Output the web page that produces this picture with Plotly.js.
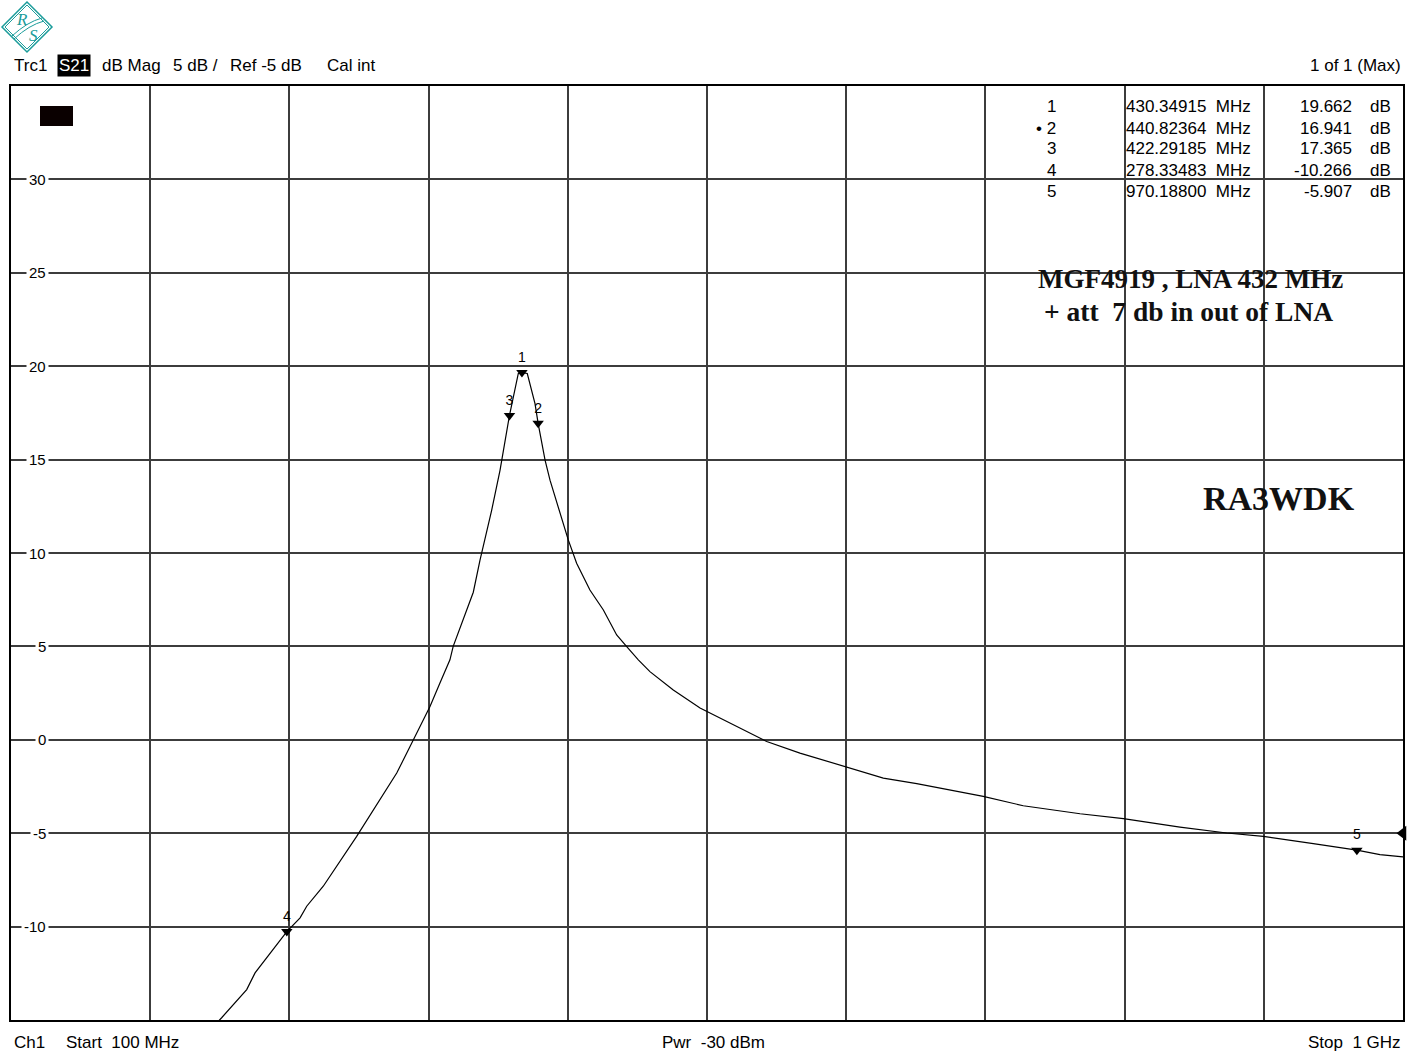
<!DOCTYPE html>
<html>
<head>
<meta charset="utf-8">
<script src="https://cdn.plot.ly/plotly-3.0.1.min.js"></script>
<style>
html,body{margin:0;padding:0;background:#fff;}
#chart{width:1417px;height:1058px;}
</style>
</head>
<body>
<div id="chart"></div>
<script>
// ---- data ----
const freqMHz = [228, 236.2, 252.4, 257.8, 278.33, 286.9, 291.2, 301.9, 323.5, 334.2, 349.4, 358, 365.5, 370.9, 377.4, 383.8, 385.9, 392.4, 398.9, 403.2, 410.8, 416.2, 419.4, 422.29, 428.0, 430.35, 433.8, 438.8, 440.82, 445.3, 448.5, 455, 460.3, 465.7, 474.3, 483, 491.6, 498.1, 505.6, 513.1, 528.2, 545.5, 569.2, 588.6, 610.1, 631.7, 653.2, 664, 685.6, 707.1, 728.6, 754.5, 791.2, 819.2, 855.8, 886, 909.7, 942, 970.19, 985.1, 1000];
const gainDb  = [-15.6, -14.88, -13.37, -12.48, -10.27, -9.53, -8.91, -7.84, -5.17, -3.74, -1.78, -0.36, 0.89, 1.78, 3.05, 4.28, 5.0, 6.42, 7.9, 9.6, 12.3, 14.44, 16.04, 17.37, 19.61, 19.66, 19.61, 18.0, 16.94, 14.97, 13.9, 12.12, 10.7, 9.45, 8.02, 6.95, 5.61, 4.99, 4.28, 3.65, 2.67, 1.7, 0.71, -0.09, -0.71, -1.25, -1.78, -2.05, -2.35, -2.67, -3.03, -3.53, -3.96, -4.22, -4.67, -4.99, -5.17, -5.56, -5.91, -6.15, -6.27];

const markerIds   = ['1', '2', '3', '4', '5'];
const markerLabel = ['1', '• 2', '3', '4', '5'];
const markerFreq  = [430.34915, 440.82364, 422.29185, 278.33483, 970.18800];
const markerDb    = [19.662, 16.941, 17.365, -10.266, -5.907];

const yTicks = [30, 25, 20, 15, 10, 5, 0, -5, -10];
const refLevelDb = -5;

const headerItems = ['Trc1', 'S21', 'dB Mag', '5 dB /', 'Ref -5 dB', 'Cal int'];
const footerItems = ['Ch1', 'Start  100 MHz', 'Pwr  -30 dBm', 'Stop  1 GHz'];
const noteLines = ['MGF4919 , LNA 432 MHz', '+ att  7 db in out of LNA'];
const author = 'RA3WDK';

// ---- geometry helpers (pixel -> paper) ----
const W = 1417, H = 1058;
const L = 11, R = 1403, T = 86, B = 1020;
const px = x => (x - L) / (R - L);
const py = y => 1 - (y - T) / (B - T);

const sans = 'Liberation Sans, Arial, sans-serif';
const serif = 'Liberation Serif, Times New Roman, serif';

const traces = [
  {x: freqMHz, y: gainDb, type: 'scatter', mode: 'lines',
   line: {color: '#000', width: 1.2}, hoverinfo: 'skip'},
  {x: markerFreq, y: markerDb, type: 'scatter', mode: 'markers+text',
   text: markerIds, textposition: 'top center',
   textfont: {family: sans, size: 14, color: '#000'},
   marker: {symbol: 'triangle-down', size: 10, color: '#000'}, hoverinfo: 'skip'},
  {x: [1000], y: [refLevelDb], type: 'scatter', mode: 'markers', cliponaxis: false,
   marker: {symbol: 'triangle-left', size: 13, color: '#000'}, hoverinfo: 'skip'}
];

const ann = [];
// y tick labels inside the plot, masking the grid
yTicks.forEach(v => ann.push({xref: 'paper', yref: 'y', x: px(49), y: v, xanchor: 'right', yanchor: 'middle',
  text: String(v), showarrow: false, bgcolor: '#fff', borderpad: 2,
  font: {family: sans, size: 15, color: '#000'}}));

// header
const headerX = [12, 57, 100, 171, 228, 325];
headerItems.forEach((t, i) => ann.push({xref: 'paper', yref: 'paper', x: px(headerX[i]), y: py(65),
  xanchor: 'left', yanchor: 'middle', text: t, showarrow: false,
  bgcolor: i === 1 ? '#000' : 'rgba(0,0,0,0)', borderpad: 1,
  font: {family: sans, size: 17, color: i === 1 ? '#fff' : '#000'}}));
ann.push({xref: 'paper', yref: 'paper', x: px(1403), y: py(65), xanchor: 'right', yanchor: 'middle',
  text: '1 of 1 (Max)', showarrow: false, font: {family: sans, size: 17, color: '#000'}});

// footer
const footerX = [12, 64, 713, 1403];
const footerAnchor = ['left', 'left', 'center', 'right'];
footerItems.forEach((t, i) => ann.push({xref: 'paper', yref: 'paper', x: px(footerX[i]), y: py(1042),
  xanchor: footerAnchor[i], yanchor: 'middle', text: t, showarrow: false,
  font: {family: sans, size: 17, color: '#000'}}));

// marker table
const rowY = [107, 128, 149, 170, 192];
markerIds.forEach((id, i) => {
  ann.push({xref: 'paper', yref: 'paper', x: px(1058), y: py(rowY[i]), xanchor: 'right', yanchor: 'middle',
    text: markerLabel[i], showarrow: false, font: {family: sans, size: 17, color: '#000'}});
  ann.push({xref: 'paper', yref: 'paper', x: px(1124), y: py(rowY[i]), xanchor: 'left', yanchor: 'middle',
    text: markerFreq[i].toFixed(5) + '  MHz', showarrow: false, font: {family: sans, size: 17, color: '#000'}});
  ann.push({xref: 'paper', yref: 'paper', x: px(1354), y: py(rowY[i]), xanchor: 'right', yanchor: 'middle',
    text: markerDb[i].toFixed(3), showarrow: false, font: {family: sans, size: 17, color: '#000'}});
  ann.push({xref: 'paper', yref: 'paper', x: px(1368), y: py(rowY[i]), xanchor: 'left', yanchor: 'middle',
    text: 'dB', showarrow: false, font: {family: sans, size: 17, color: '#000'}});
});

// notes
ann.push({xref: 'paper', yref: 'paper', x: px(1036), y: py(279), xanchor: 'left', yanchor: 'middle',
  text: '<b>' + noteLines[0] + '</b>', showarrow: false, font: {family: serif, size: 27, color: '#111'}});
ann.push({xref: 'paper', yref: 'paper', x: px(1042), y: py(311), xanchor: 'left', yanchor: 'middle',
  text: '<b>' + noteLines[1] + '</b>', showarrow: false, font: {family: serif, size: 27.5, color: '#111'}});
ann.push({xref: 'paper', yref: 'paper', x: px(1201), y: py(498), xanchor: 'left', yanchor: 'middle',
  text: '<b>' + author + '</b>', showarrow: false, font: {family: serif, size: 34, color: '#111'}});

// logo letters
const teal = '#1a9c9a';
ann.push({xref: 'paper', yref: 'paper', x: px(22), y: py(20), xanchor: 'center', yanchor: 'middle',
  text: '<i>R</i>', showarrow: false, font: {family: serif, size: 17, color: teal}});
ann.push({xref: 'paper', yref: 'paper', x: px(33), y: py(35), xanchor: 'center', yanchor: 'middle',
  text: '<i>S</i>', showarrow: false, font: {family: serif, size: 17, color: teal}});

const diamond = (cx, cy, r) => {
  return 'M ' + px(cx - r) + ' ' + py(cy) + ' L ' + px(cx) + ' ' + py(cy - r) + ' L ' + px(cx + r) + ' ' + py(cy) +
         ' L ' + px(cx) + ' ' + py(cy + r) + ' Z';
};

const shapes = [
  // small black block in upper-left of plot
  {type: 'rect', xref: 'paper', yref: 'paper', x0: px(40), x1: px(73), y0: py(126), y1: py(106),
   fillcolor: '#0a0000', line: {width: 0}},
  // logo
  {type: 'path', xref: 'paper', yref: 'paper', path: diamond(27, 27, 25), line: {color: teal, width: 1.5}},
  {type: 'path', xref: 'paper', yref: 'paper', path: diamond(27, 27, 22), line: {color: teal, width: 1}},
  {type: 'path', xref: 'paper', yref: 'paper',
   path: 'M ' + px(12) + ' ' + py(36) + ' Q ' + px(27) + ' ' + py(22) + ' ' + px(42) + ' ' + py(18),
   line: {color: teal, width: 1}},
  {type: 'path', xref: 'paper', yref: 'paper',
   path: 'M ' + px(14) + ' ' + py(39) + ' Q ' + px(29) + ' ' + py(25) + ' ' + px(44) + ' ' + py(21),
   line: {color: teal, width: 1}}
];

const layout = {
  width: W, height: H,
  margin: {l: L, r: W - R, t: T, b: H - B, pad: 0},
  paper_bgcolor: '#fff', plot_bgcolor: '#fff',
  showlegend: false,
  xaxis: {range: [100, 1000], tick0: 100, dtick: 90, showticklabels: false, ticks: '',
          showgrid: true, gridcolor: '#3c3c3c', gridwidth: 2, zeroline: false,
          showline: true, mirror: true, linecolor: '#000', linewidth: 2, fixedrange: true},
  yaxis: {range: [-15, 35], tick0: 0, dtick: 5, showticklabels: false, ticks: '',
          showgrid: true, gridcolor: '#3c3c3c', gridwidth: 2, zeroline: false,
          showline: true, mirror: true, linecolor: '#000', linewidth: 2, fixedrange: true},
  annotations: ann,
  shapes: shapes
};

Plotly.newPlot('chart', traces, layout, {displayModeBar: false, staticPlot: true});
</script>
</body>
</html>
